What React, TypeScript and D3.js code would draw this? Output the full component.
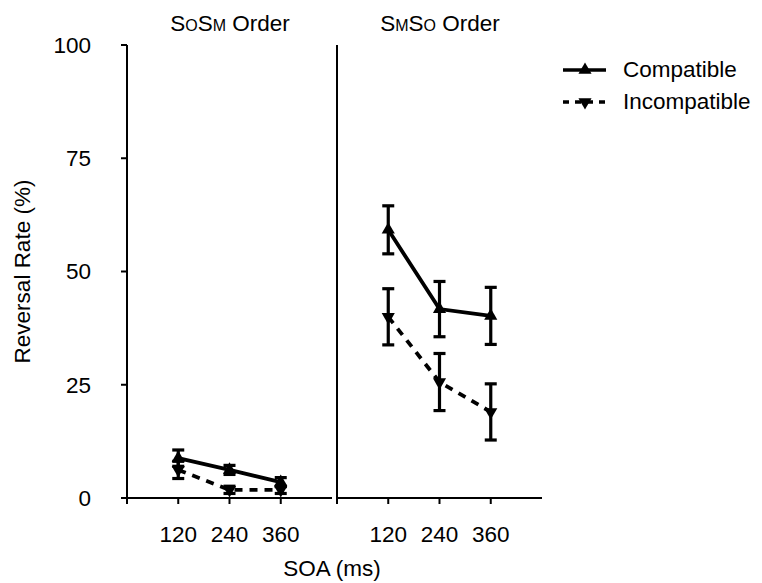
import React, { useEffect, useRef } from 'react'
import * as d3 from 'd3'

const soaLabels = ['120', '240', '360']
const yTicks = [0, 25, 50, 75, 100]

// S_O S_M order (left panel)
const osCompatible = [8.8, 6.2, 3.5]
const osCompatibleErr = [1.8, 1.0, 1.0]
const osIncompatible = [6.2, 1.8, 1.8]
const osIncompatibleErr = [1.9, 0.8, 0.8]

// S_M S_O order (right panel)
const moCompatible = [59.2, 41.7, 40.2]
const moCompatibleErr = [5.3, 6.1, 6.3]
const moIncompatible = [40.0, 25.6, 19.0]
const moIncompatibleErr = [6.2, 6.3, 6.2]

const App = () => {
  const ref = useRef<SVGSVGElement>(null)

  useEffect(() => {
    const svg = d3.select(ref.current)
    svg.selectAll('*').remove()

    const font = 'Liberation Sans, Arial, sans-serif'
    const fs = '22.5px'
    const top = 45
    const bottom = 498
    const y = d3.scaleLinear().domain([0, 100]).range([bottom, top])

    const panels = [
      { x0: 127, title: ['S', 'O', 'S', 'M'], comp: osCompatible, compErr: osCompatibleErr, inc: osIncompatible, incErr: osIncompatibleErr, labels: true },
      { x0: 337, title: ['S', 'M', 'S', 'O'], comp: moCompatible, compErr: moCompatibleErr, inc: moIncompatible, incErr: moIncompatibleErr, labels: false }
    ]

    const triUp = d3.symbol().type(d3.symbolTriangle).size(75)

    panels.forEach(p => {
      const x = d3.scaleLinear().domain([0, 4]).range([p.x0, p.x0 + 205])
      const g = svg.append('g')

      // axes
      g.append('line').attr('x1', p.x0).attr('x2', p.x0 + 205)
          .attr('y1', bottom).attr('y2', bottom)
          .attr('stroke', 'black').attr('stroke-width', 2)
      g.append('line').attr('x1', p.x0).attr('x2', p.x0)
          .attr('y1', top).attr('y2', bottom)
          .attr('stroke', 'black').attr('stroke-width', 2)
      ;[0, 1, 2, 3].forEach(i => {
        g.append('line').attr('x1', x(i)).attr('x2', x(i))
            .attr('y1', bottom).attr('y2', bottom + 6)
            .attr('stroke', 'black').attr('stroke-width', 2)
      })
      soaLabels.forEach((t, i) => {
        g.append('text').attr('x', x(i + 1)).attr('y', bottom + 44)
            .attr('text-anchor', 'middle').style('font-family', font)
            .style('font-size', fs).text(t)
      })
      if (p.labels) {
        yTicks.forEach(t => {
          g.append('line').attr('x1', p.x0 - 6).attr('x2', p.x0)
              .attr('y1', y(t)).attr('y2', y(t))
              .attr('stroke', 'black').attr('stroke-width', 2)
          g.append('text').attr('x', p.x0 - 36).attr('y', y(t)).attr('dy', '0.35em')
              .attr('text-anchor', 'end').style('font-family', font)
              .style('font-size', fs).text(t)
        })
      }

      // title with small-cap subscripts
      const title = g.append('text').attr('x', p.x0 + 103).attr('y', 31)
          .attr('text-anchor', 'middle').style('font-family', font).style('font-size', fs)
      title.append('tspan').text(p.title[0])
      title.append('tspan').style('font-size', '16px').text(p.title[1])
      title.append('tspan').text(p.title[2])
      title.append('tspan').style('font-size', '16px').text(p.title[3])
      title.append('tspan').text(' Order')

      const line = d3.line<number>().x((d, i) => x(i + 1)).y(d => y(d))

      const series = [
        { vals: p.inc, errs: p.incErr, dash: '8,7', rot: 180 },
        { vals: p.comp, errs: p.compErr, dash: null, rot: 0 }
      ]
      series.forEach(s => {
        g.append('path').attr('d', line(s.vals)).attr('fill', 'none')
            .attr('stroke', 'black').attr('stroke-width', 3.8)
            .attr('stroke-dasharray', s.dash)
        s.vals.forEach((v, i) => {
          const cx = x(i + 1)
          const y1 = y(v + s.errs[i])
          const y2 = y(v - s.errs[i])
          g.append('line').attr('x1', cx).attr('x2', cx).attr('y1', y1).attr('y2', y2)
              .attr('stroke', 'black').attr('stroke-width', 3.2)
          ;[y1, y2].forEach(yy => {
            g.append('line').attr('x1', cx - 6).attr('x2', cx + 6).attr('y1', yy).attr('y2', yy)
                .attr('stroke', 'black').attr('stroke-width', 3.2)
          })
          g.append('path').attr('d', triUp())
              .attr('transform', `translate(${cx},${y(v)}) rotate(${s.rot})`)
              .attr('fill', 'black')
        })
      })
    })

    // axis titles
    svg.append('text').attr('transform', `translate(30,${(top + bottom) / 2}) rotate(-90)`)
        .attr('text-anchor', 'middle').style('font-family', font).style('font-size', fs)
        .text('Reversal Rate (%)')
    svg.append('text').attr('x', 332).attr('y', 576)
        .attr('text-anchor', 'middle').style('font-family', font).style('font-size', fs)
        .text('SOA (ms)')

    // legend
    const legend = [
      { name: 'Compatible', dash: null, rot: 0 },
      { name: 'Incompatible', dash: '6,6', rot: 180 }
    ]
    legend.forEach((l, i) => {
      const ly = 70 + i * 32
      svg.append('line').attr('x1', 563).attr('x2', 606).attr('y1', ly).attr('y2', ly)
          .attr('stroke', 'black').attr('stroke-width', 3.5).attr('stroke-dasharray', l.dash)
      svg.append('path').attr('d', triUp())
          .attr('transform', `translate(585,${ly}) rotate(${l.rot})`).attr('fill', 'black')
      svg.append('text').attr('x', 623).attr('y', ly - 1).attr('dy', '0.35em')
          .style('font-family', font).style('font-size', fs).text(l.name)
    })
  }, [])

  return (
    <svg ref={ref} width={762} height={583} style={{ position: 'absolute', left: 0, top: 0, background: 'white' }} />
  )
}

export default App
